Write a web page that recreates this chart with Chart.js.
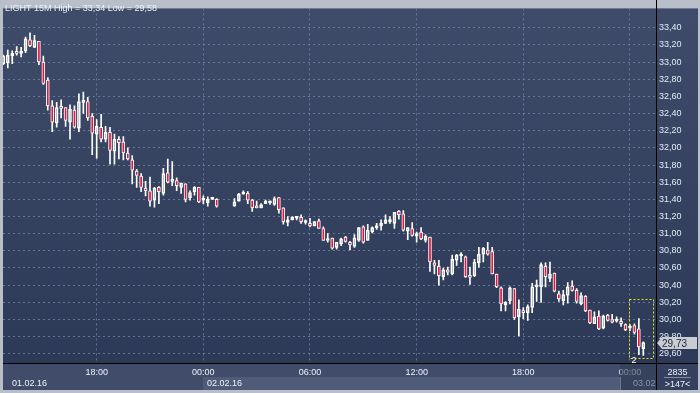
<!DOCTYPE html>
<html><head><meta charset="utf-8">
<script src="https://cdn.jsdelivr.net/npm/chart.js@4/dist/chart.umd.min.js"></script>
<style>html,body{margin:0;padding:0;background:#b9bfc9;overflow:hidden}canvas{display:block}</style>
</head><body>
<canvas id="c" width="700" height="393"></canvas>
<script>
// ---- data (15-minute candles, slot -1 .. 143; slots 48-50 have no trades) ----
const symbol = 'LIGHT 15M';
const firstSlot = -1;
const opens = [
 32.98,32.99,33.07,33.12,33.10,33.13,33.26,33.17,33.24,33.00,
 32.79,32.49,32.29,32.48,32.47,32.30,32.44,32.23,32.53,32.54,
 32.37,32.16,32.24,32.10,32.18,31.96,32.10,32.07,31.94,31.86,
 31.73,31.67,31.53,31.50,31.39,31.54,31.47,31.71,31.61,31.62,
 31.54,31.58,31.42,31.49,31.54,31.39,31.36,31.40,31.40,null,
 null,null,31.32,31.38,31.46,31.47,31.39,31.31,31.30,31.35,
 31.36,31.34,31.42,31.30,31.13,31.16,31.18,31.19,31.13,31.12,
 31.09,31.15,31.06,30.92,30.95,30.84,30.88,30.96,30.90,30.85,
 30.92,31.08,30.92,31.02,31.07,31.09,31.12,31.14,31.12,31.26,
 31.23,31.03,31.06,30.97,31.02,30.92,30.96,30.66,30.62,30.50,
 30.58,30.53,30.69,30.74,30.73,30.51,30.51,30.66,30.76,30.81,
 30.79,30.53,30.37,30.17,30.22,30.36,30.03,30.10,30.08,30.14,
 30.38,30.38,30.62,30.48,30.54,30.30,30.22,30.28,30.39,30.34,
 30.18,30.27,30.11,29.95,30.04,29.90,30.05,30.00,29.98,29.98,
 29.94,29.90,29.93,29.89,29.66];
const highs = [
 33.08,33.14,33.13,33.18,33.17,33.29,33.34,33.31,33.24,33.07,
 32.82,32.55,32.53,32.56,32.47,32.50,32.49,32.63,32.65,32.59,
 32.40,32.33,32.39,32.25,32.24,32.16,32.13,32.13,32.00,31.91,
 31.75,31.70,31.61,31.66,31.54,31.55,31.76,31.87,31.84,31.65,
 31.59,31.58,31.50,31.55,31.54,31.44,31.43,31.42,31.41,null,
 null,null,31.41,31.47,31.50,31.49,31.40,31.38,31.35,31.39,
 31.38,31.43,31.42,31.30,31.20,31.20,31.20,31.22,31.16,31.18,
 31.14,31.17,31.08,31.00,30.95,30.90,30.95,30.97,30.91,30.99,
 31.07,31.09,31.11,31.08,31.12,31.16,31.22,31.20,31.25,31.27,
 31.27,31.07,31.13,31.02,31.07,30.99,30.96,30.69,30.69,30.60,
 30.61,30.75,30.76,30.78,30.74,30.61,30.70,30.84,30.84,30.90,
 30.84,30.53,30.38,30.21,30.38,30.36,30.23,30.14,30.17,30.42,
 30.46,30.66,30.66,30.67,30.54,30.33,30.34,30.43,30.45,30.36,
 30.31,30.28,30.11,30.09,30.10,30.05,30.06,30.06,30.03,30.02,
 29.95,29.94,29.95,30.01,29.74];
const lows = [
 32.97,32.93,32.98,33.08,33.06,33.11,33.18,33.17,32.97,32.74,
 32.44,32.19,32.24,32.35,32.25,32.10,32.23,32.19,32.40,32.32,
 31.92,31.88,32.07,32.07,31.81,31.81,31.87,31.86,31.86,31.58,
 31.54,31.49,31.44,31.32,31.31,31.35,31.45,31.59,31.56,31.50,
 31.47,31.37,31.39,31.45,31.36,31.35,31.32,31.40,31.31,null,
 null,null,31.32,31.38,31.46,31.35,31.26,31.30,31.30,31.35,
 31.34,31.33,31.24,31.11,31.09,31.16,31.16,31.12,31.11,31.08,
 31.09,31.06,30.92,30.90,30.82,30.82,30.86,30.90,30.81,30.84,
 30.91,30.89,30.92,31.01,31.05,31.04,31.12,31.12,31.06,31.17,
 31.03,30.93,30.97,30.90,30.93,30.90,30.56,30.53,30.40,30.46,
 30.52,30.52,30.63,30.67,30.49,30.41,30.50,30.61,30.67,30.75,
 30.53,30.37,30.10,30.10,30.18,30.00,29.81,30.01,29.99,30.08,
 30.21,30.20,30.38,30.44,30.32,30.21,30.17,30.19,30.33,30.19,
 30.17,30.09,29.95,29.95,29.88,29.89,29.98,29.96,29.97,29.92,
 29.87,29.87,29.83,29.59,29.58];
const closes = [
 33.07,33.08,33.10,33.10,33.12,33.27,33.19,33.25,33.00,32.75,
 32.49,32.30,32.47,32.46,32.32,32.45,32.24,32.54,32.55,32.35,
 32.17,32.25,32.10,32.18,31.97,32.10,32.06,31.94,31.87,31.74,
 31.68,31.54,31.50,31.38,31.53,31.49,31.70,31.60,31.63,31.56,
 31.59,31.40,31.48,31.54,31.37,31.40,31.40,31.41,31.32,null,
 null,null,31.37,31.46,31.47,31.39,31.30,31.30,31.34,31.38,
 31.36,31.41,31.28,31.14,31.16,31.19,31.18,31.14,31.13,31.09,
 31.14,31.06,30.92,30.94,30.83,30.90,30.94,30.91,30.87,30.95,
 31.07,30.90,31.04,31.07,31.08,31.12,31.16,31.15,31.25,31.22,
 31.04,31.07,30.98,31.00,30.94,30.97,30.67,30.63,30.51,30.58,
 30.55,30.70,30.75,30.76,30.50,30.49,30.67,30.76,30.83,30.76,
 30.53,30.38,30.18,30.20,30.37,30.02,30.12,30.08,30.15,30.38,
 30.40,30.64,30.50,30.53,30.33,30.24,30.29,30.38,30.34,30.21,
 30.28,30.10,29.96,30.03,29.89,30.04,29.99,29.97,30.00,29.95,
 29.88,29.91,29.85,29.68,29.73];
const xTickSlots = [20, 44, 68, 92, 116, 140];
const xTickLabels = ['18:00', '00:00', '06:00', '12:00', '18:00', '00:00'];
const yTickValues = [29.6,29.8,30.0,30.2,30.4,30.6,30.8,31.0,31.2,31.4,31.6,31.8,32.0,32.2,32.4,32.6,32.8,33.0,33.2,33.4];
const dateLabels = ['01.02.16', '02.02.16', '03.02'];
const barCountLabel = '2835';
const visibleBarsLabel = '>147<';

// ---- build datasets ----
const RED = '#e3163c';
const fmt = v => v.toFixed(2).replace('.', ',');
const bodies = [], bodyFill = [], upper = [], lower = [];
opens.forEach((o, i) => {
  if (o == null) return;
  const s = firstSlot + i, c = closes[i];
  const top = Math.max(o, c), bot = Math.min(o, c);
  bodies.push({x: s, y: [o, c]});
  bodyFill.push(c < o ? RED : 'rgba(0,0,0,0)');
  upper.push({x: s, y: [top, highs[i]]});
  lower.push({x: s, y: [lows[i], bot]});
});
const hi = Math.max(...highs.filter(v => v != null));
const lo = Math.min(...lows.filter(v => v != null));
const lastClose = closes[closes.length - 1];

Chart.defaults.font.family = '"Liberation Sans", Arial, sans-serif';
Chart.defaults.font.size = 9;
const GRID = 'rgba(120,136,168,0.75)';
const TXT = '#eef2f8';

const bgPlugin = {
  id: 'bg',
  beforeDraw(chart) {
    const ctx = chart.ctx, a = chart.chartArea;
    ctx.save();
    ctx.fillStyle = '#b9bfc9'; ctx.fillRect(0, 0, 700, 393);
    const g = ctx.createLinearGradient(0, a.top, 0, a.bottom);
    g.addColorStop(0, '#3e4b69'); g.addColorStop(1, '#2c3957');
    ctx.fillStyle = g; ctx.fillRect(a.left, a.top, 698 - a.left, a.bottom - a.top);
    ctx.fillStyle = '#404c6a'; ctx.fillRect(a.left, a.bottom, a.right - a.left, 390 - a.bottom);
    const x0 = Math.round(chart.scales.x.getPixelForValue(xTickSlots[1]));
    ctx.fillStyle = '#4f5b79'; ctx.fillRect(x0, 377, 620 - x0, 13);
    ctx.fillStyle = '#34405d'; ctx.fillRect(a.right, a.bottom, 698 - a.right, 390 - a.bottom);
    ctx.restore();
  }
};

const overlayPlugin = {
  id: 'ov',
  afterDraw(chart) {
    const ctx = chart.ctx, a = chart.chartArea, xs = chart.scales.x, ys = chart.scales.y;
    ctx.save();
    // darkened region at the right end of the time axis
    ctx.fillStyle = 'rgba(48,58,84,0.6)'; ctx.fillRect(620, a.bottom + 1, a.right - 620, 390 - a.bottom - 1);
    ctx.fillStyle = '#6b7690'; ctx.fillRect(620, 377, 1, 13);
    // axis lines
    ctx.fillStyle = '#000';
    ctx.fillRect(a.right, 0, 1, 390);
    ctx.fillRect(a.left, a.bottom, 698 - a.left, 1);
    // title
    ctx.font = '9px "Liberation Sans", Arial, sans-serif';
    ctx.textBaseline = 'alphabetic'; ctx.textAlign = 'left';
    ctx.fillStyle = TXT;
    ctx.fillText(symbol + ' High = ' + fmt(hi) + ' Low = ' + fmt(lo), 5, 11);
    // date row
    ctx.fillText(dateLabels[0], 12, 386);
    ctx.fillText(dateLabels[1], Math.round(xs.getPixelForValue(xTickSlots[1])) + 4, 386);
    ctx.fillStyle = '#8a94a8';
    ctx.fillText(dateLabels[2], 633, 386);
    // bottom-right info
    ctx.textAlign = 'center'; ctx.fillStyle = TXT;
    ctx.fillText(barCountLabel, 677.5, 374.5);
    ctx.fillText(visibleBarsLabel, 677.5, 386.5);
    ctx.fillStyle = '#7f8aa2'; ctx.fillRect(664, 377, 27, 1);
    // yellow selection box
    ctx.strokeStyle = '#e4e21c'; ctx.lineWidth = 1; ctx.setLineDash([2, 2]);
    const bx1 = Math.round(xs.getPixelForValue(139.85)) + 0.5, bx2 = Math.round(xs.getPixelForValue(145.1)) + 0.5;
    const by1 = Math.round(ys.getPixelForValue(30.24)) + 0.5, by2 = Math.round(ys.getPixelForValue(29.557)) + 0.5;
    ctx.strokeRect(bx1, by1, bx2 - bx1, by2 - by1);
    ctx.setLineDash([]);
    ctx.textAlign = 'left'; ctx.fillStyle = '#ffffff';
    ctx.fillText('2', bx1 + 2, by2 + 4);
    // last price label
    const py = Math.round(ys.getPixelForValue(lastClose));
    ctx.fillStyle = '#c9ccd2';
    ctx.beginPath();
    ctx.moveTo(657, py); ctx.lineTo(662, py - 6); ctx.lineTo(697, py - 6);
    ctx.lineTo(697, py + 6); ctx.lineTo(662, py + 6); ctx.closePath(); ctx.fill();
    ctx.fillStyle = '#1b2438'; ctx.textAlign = 'left';
    ctx.font = '10px "Liberation Sans", Arial, sans-serif';
    ctx.fillText(fmt(lastClose), 662, py + 4);
    ctx.restore();
  }
};

new Chart(document.getElementById('c'), {
  type: 'bar',
  data: {
    datasets: [
      {data: bodies, backgroundColor: bodyFill, borderColor: '#ffffff', borderWidth: 1,
       borderSkipped: false, barThickness: 3, minBarLength: 2, grouped: false, order: 0},
      {data: upper, backgroundColor: '#ffffff', borderWidth: 0, barThickness: 1, grouped: false, order: 1},
      {data: lower, backgroundColor: '#ffffff', borderWidth: 0, barThickness: 1, grouped: false, order: 1}
    ]
  },
  options: {
    responsive: false, animation: false, devicePixelRatio: 1,
    layout: {padding: {left: 3, top: 1, right: 0, bottom: 0}},
    plugins: {legend: {display: false}, tooltip: {enabled: false}},
    scales: {
      x: {
        type: 'linear', position: 'bottom', min: -1.08, max: 145.86, offset: false,
        afterBuildTicks: s => { s.ticks = xTickSlots.map(v => ({value: v})); },
        afterFit: s => { s.height = 30; },
        ticks: {autoSkip: false, maxRotation: 0, padding: 4, color: TXT,
                callback: (v, i) => xTickLabels[i]},
        grid: {color: GRID, drawTicks: false, offset: false},
        border: {display: false, dash: [2, 3]}
      },
      y: {
        type: 'linear', position: 'right', min: 29.493, max: 33.625, beginAtZero: false,
        afterBuildTicks: s => { s.ticks = yTickValues.map(v => ({value: v})); },
        afterFit: s => { s.width = 44; },
        ticks: {autoSkip: false, padding: 3, color: '#e4eaf6', callback: v => fmt(v)},
        grid: {color: GRID, drawTicks: false},
        border: {display: false, dash: [2, 3]}
      }
    }
  },
  plugins: [bgPlugin, overlayPlugin]
});
</script>
</body></html>
